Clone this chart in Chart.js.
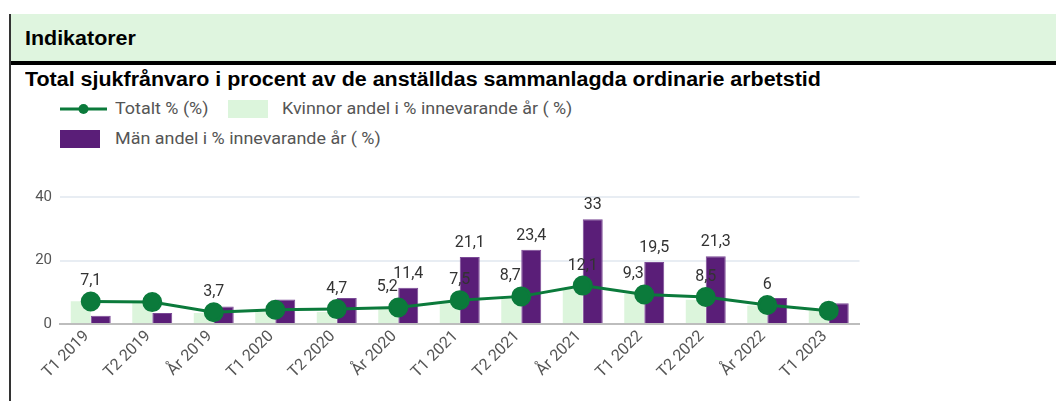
<!DOCTYPE html>
<html>
<head>
<meta charset="utf-8">
<script src="https://cdn.jsdelivr.net/npm/chart.js@4"></script>
<style>
  body { margin: 0; background: #fff; width: 1056px; height: 401px; overflow: hidden; position: relative; }
  #leftline { position: absolute; left: 9px; top: 14px; bottom: 0; width: 2px; background: #333; }
  #header { position: absolute; left: 11px; top: 14px; right: 0; height: 47px; background: #dff5df; border-bottom: 4px solid #000; }
  .hx { position: absolute; font: bold 19.5px/1 "Liberation Sans", Arial, sans-serif; color: #000; white-space: nowrap;
        transform: scaleX(1.1); transform-origin: 0 0; }
  .leg { position: absolute; font: 16px/1 Roboto, sans-serif; color: #555; white-space: nowrap;
         transform: scaleX(1.12); transform-origin: 0 0; }
  .box { position: absolute; width: 40px; height: 18px; }
  #chartwrap { position: absolute; left: 10px; top: 180px; width: 861px; height: 222px; }
</style>
</head>
<body>
<div id="leftline"></div>
<div id="header"></div>
<div class="hx" style="left:25px;top:29px">Indikatorer</div>
<div class="hx" style="left:25px;top:70px">Total sjukfrånvaro i procent av de anställdas sammanlagda ordinarie arbetstid</div>

<svg style="position:absolute;left:60px;top:102px" width="48" height="14">
  <line x1="0" y1="7" x2="47" y2="7" stroke="#0b7a3b" stroke-width="3"/>
  <circle cx="23.5" cy="7" r="5" fill="#0b7a3b"/>
</svg>
<div class="leg" style="left:115px;top:101px">Totalt % (%)</div>
<div class="box" style="left:228px;top:100px;background:#dcf5dc"></div>
<div class="leg" style="left:282px;top:101px">Kvinnor andel i % innevarande år ( %)</div>
<div class="box" style="left:60px;top:130px;background:#5a1e78"></div>
<div class="leg" style="left:115px;top:131px">Män andel i % innevarande år ( %)</div>

<div id="chartwrap"><canvas id="myChart"></canvas></div>

<script>
var labels = ['T1 2019', 'T2 2019', 'År 2019', 'T1 2020', 'T2 2020', 'År 2020', 'T1 2021', 'T2 2021', 'År 2021', 'T1 2022', 'T2 2022', 'År 2022', 'T1 2023'];
var totalt = [7.1, 6.9, 3.7, 4.5, 4.7, 5.2, 7.5, 8.7, 12.1, 9.3, 8.5, 6, 4.2];
var kvinnor = [7.2, 6.8, 3.5, 3.8, 3.8, 4.7, 6.6, 8.6, 11.0, 9.5, 7.6, 5.8, 4.2];
var man = [2.6, 3.5, 5.5, 7.7, 8.2, 11.4, 21.1, 23.4, 33, 19.5, 21.3, 8.2, 6.5];
var yTicks = [0, 20, 40];

// which value labels are visible (the original hides the overlapping ones)
var showTotalt = [1, 0, 1, 0, 1, 1, 1, 1, 1, 1, 1, 1, 0];
var showMan = [0, 0, 0, 0, 0, 1, 1, 1, 1, 1, 1, 0, 0];
var totaltShift = [0, 0, 0, 0, 0, -11, 0, -11, 0, -11, 0, 0, 0];

function fmt(v) {
    return String(v).replace('.', ',');
}

var valueLabels = {
    id: 'valueLabels',
    afterDatasetsDraw: function(chart) {
        var ctx = chart.ctx;
        ctx.save();
        ctx.font = '16px Roboto';
        ctx.fillStyle = '#333';
        ctx.textAlign = 'center';
        ctx.textBaseline = 'middle';
        var manMeta = chart.getDatasetMeta(2);
        manMeta.data.forEach(function(el, i) {
            if (showMan[i]) ctx.fillText(fmt(man[i]), el.x, el.y - 14);
        });
        var totMeta = chart.getDatasetMeta(0);
        totMeta.data.forEach(function(el, i) {
            if (showTotalt[i]) ctx.fillText(fmt(totalt[i]), el.x + totaltShift[i], el.y - 20);
        });
        ctx.restore();
    }
};

var ctx = document.getElementById('myChart').getContext('2d');
var myChart = new Chart(ctx, {
    type: 'bar',
    data: {
        labels: labels,
        datasets: [{
            type: 'line',
            label: 'Totalt % (%)',
            data: totalt,
            borderColor: '#0b7a3b',
            backgroundColor: '#0b7a3b',
            borderWidth: 3,
            pointRadius: 8.5,
            pointHoverRadius: 8.5,
            tension: 0
        }, {
            label: 'Kvinnor andel i % innevarande år ( %)',
            data: kvinnor,
            backgroundColor: '#dcf5dc',
            categoryPercentage: 0.65,
            barPercentage: 1.0
        }, {
            label: 'Män andel i % innevarande år ( %)',
            data: man,
            backgroundColor: '#5a1e78',
            borderColor: '#7b4a96',
            borderWidth: 1,
            categoryPercentage: 0.65,
            barPercentage: 1.0
        }]
    },
    options: {
        responsive: true,
        maintainAspectRatio: false,
        animation: false,
        plugins: {
            legend: { display: false },
            tooltip: { enabled: false }
        },
        scales: {
            x: {
                grid: { display: false, drawTicks: false },
                border: { color: '#bdbdbd', width: 2 },
                ticks: {
                    color: '#555',
                    font: { family: 'Roboto', size: 16 },
                    minRotation: 45,
                    maxRotation: 45,
                    labelOffset: -4,
                    padding: 3
                },
                afterFit: function(s) { s.height = 78; }
            },
            y: {
                min: 0,
                max: 40,
                afterBuildTicks: function(s) { s.ticks = yTicks.map(function(v) { return { value: v }; }); },
                grid: { color: '#e8edf3', lineWidth: 2, drawTicks: false },
                border: { display: false },
                ticks: {
                    color: '#555',
                    font: { family: 'Roboto', size: 15 },
                    padding: 8
                },
                afterFit: function(s) { s.width = 50; }
            }
        }
    },
    plugins: [valueLabels]
});
</script>
</body>
</html>
